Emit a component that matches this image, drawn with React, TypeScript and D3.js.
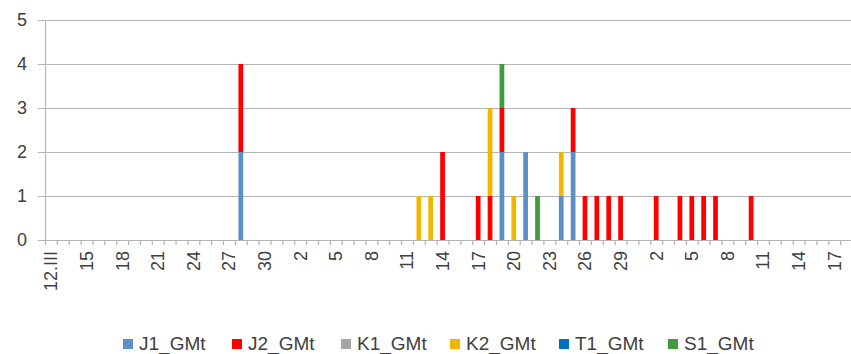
import React from "react";
import * as d3 from "d3";

// Daily observation counts per series, keyed by day ("dd.MM" with Roman month)
const monthSpans: [string, number, number][] = [
  ["III", 12, 31],
  ["IV", 1, 30],
  ["V", 1, 18],
];

const seriesNames = ["J1_GMt", "J2_GMt", "K1_GMt", "K2_GMt", "T1_GMt", "S1_GMt"];
const seriesColors = ["#5A8FC8", "#FF0000", "#A5A5A5", "#F2B600", "#0070C0", "#3E9C3A"];

const J1_GMt: [string, number][] = [
  ["28.III", 2],
  ["19.IV", 2],
  ["21.IV", 2],
  ["24.IV", 1],
  ["25.IV", 2],
];
const J2_GMt: [string, number][] = [
  ["28.III", 2],
  ["14.IV", 2],
  ["17.IV", 1],
  ["18.IV", 1],
  ["19.IV", 1],
  ["25.IV", 1],
  ["26.IV", 1],
  ["27.IV", 1],
  ["28.IV", 1],
  ["29.IV", 1],
  ["2.V", 1],
  ["4.V", 1],
  ["5.V", 1],
  ["6.V", 1],
  ["7.V", 1],
  ["10.V", 1],
];
const K1_GMt: [string, number][] = [];
const K2_GMt: [string, number][] = [
  ["12.IV", 1],
  ["13.IV", 1],
  ["18.IV", 2],
  ["20.IV", 1],
  ["24.IV", 1],
];
const T1_GMt: [string, number][] = [];
const S1_GMt: [string, number][] = [
  ["19.IV", 1],
  ["22.IV", 1],
];

const yTicks = [0, 1, 2, 3, 4, 5];

// Every day of the period is a category
const days: { key: string; label: string }[] = [];
monthSpans.forEach(([m, from, to]) => {
  for (let d = from; d <= to; d++) {
    days.push({ key: `${d}.${m}`, label: days.length === 0 ? `${d}.${m}` : `${d}` });
  }
});

const seriesData = [J1_GMt, J2_GMt, K1_GMt, K2_GMt, T1_GMt, S1_GMt];

const rows = days.map((day) => {
  const row: Record<string, number | string> = { day: day.key };
  seriesNames.forEach((name, i) => {
    const hit = seriesData[i].find((p) => p[0] === day.key);
    row[name] = hit ? hit[1] : 0;
  });
  return row;
});

const W = 851;
const H = 354;
const left = 45;
const right = 852;
const top = 20;
const bottom = 240;
const font = "'Liberation Sans', Arial, sans-serif";
const textColor = "#404040";
const gridColor = "#B4B4B4";

export default function App() {
  const x = d3
    .scaleBand<string>()
    .domain(days.map((d) => d.key))
    .range([left, right])
    .paddingInner(0.6)
    .paddingOuter(0.3);
  const step = x.step();
  const y = d3.scaleLinear().domain([0, 5]).range([bottom, top]);

  const stacked = d3
    .stack<Record<string, number | string>>()
    .keys(seriesNames)
    .value((d, k) => d[k] as number)(rows);

  const legendX = d3.scalePoint<string>().domain(seriesNames).range([123, 668]);

  return (
    <svg
      width={W}
      height={H}
      style={{ position: "absolute", left: 0, top: 0, background: "#fff" }}
    >
      {/* horizontal gridlines */}
      {yTicks.map((t) => (
        <line
          key={`g${t}`}
          x1={left - 7}
          x2={W}
          y1={y(t) + 0.5}
          y2={y(t) + 0.5}
          stroke={gridColor}
          strokeWidth={1.2}
        />
      ))}
      {/* value axis */}
      <line x1={left + 0.5} x2={left + 0.5} y1={top} y2={bottom} stroke={gridColor} strokeWidth={1.2} />
      {yTicks.map((t) => (
        <text
          key={`yl${t}`}
          x={27}
          y={y(t)}
          dy="0.36em"
          textAnchor="end"
          fontFamily={font}
          fontSize={18}
          fill={textColor}
        >
          {t}
        </text>
      ))}
      {/* category tick marks between days */}
      {d3.range(days.length + 1).map((i) => (
        <line
          key={`t${i}`}
          x1={left + i * step + 0.5}
          x2={left + i * step + 0.5}
          y1={bottom}
          y2={bottom + 5}
          stroke={gridColor}
          strokeWidth={1.2}
        />
      ))}
      {/* stacked bars */}
      {stacked.map((layer, si) => (
        <g key={layer.key} fill={seriesColors[si]}>
          {layer.map((seg, di) =>
            seg[1] > seg[0] ? (
              <rect
                key={di}
                x={x(days[di].key)!}
                width={x.bandwidth()}
                y={y(seg[1])}
                height={y(seg[0]) - y(seg[1])}
              />
            ) : null
          )}
        </g>
      ))}
      {/* day labels every third day */}
      {days.map((d, i) =>
        i % 3 === 0 ? (
          <text
            key={`xl${i}`}
            transform={`translate(${x(d.key)! + x.bandwidth() / 2},251) rotate(-90)`}
            dy="0.36em"
            textAnchor="end"
            fontFamily={font}
            fontSize={18}
            fill={textColor}
          >
            {d.label}
          </text>
        ) : null
      )}
      {/* legend */}
      {seriesNames.map((name, i) => (
        <g key={name} transform={`translate(${legendX(name)},339)`}>
          <rect width={10} height={10} fill={seriesColors[i]} />
          <text x={16} y={10} fontFamily={font} fontSize={19} fill={textColor} dy="0.05em">
            {name}
          </text>
        </g>
      ))}
    </svg>
  );
}
